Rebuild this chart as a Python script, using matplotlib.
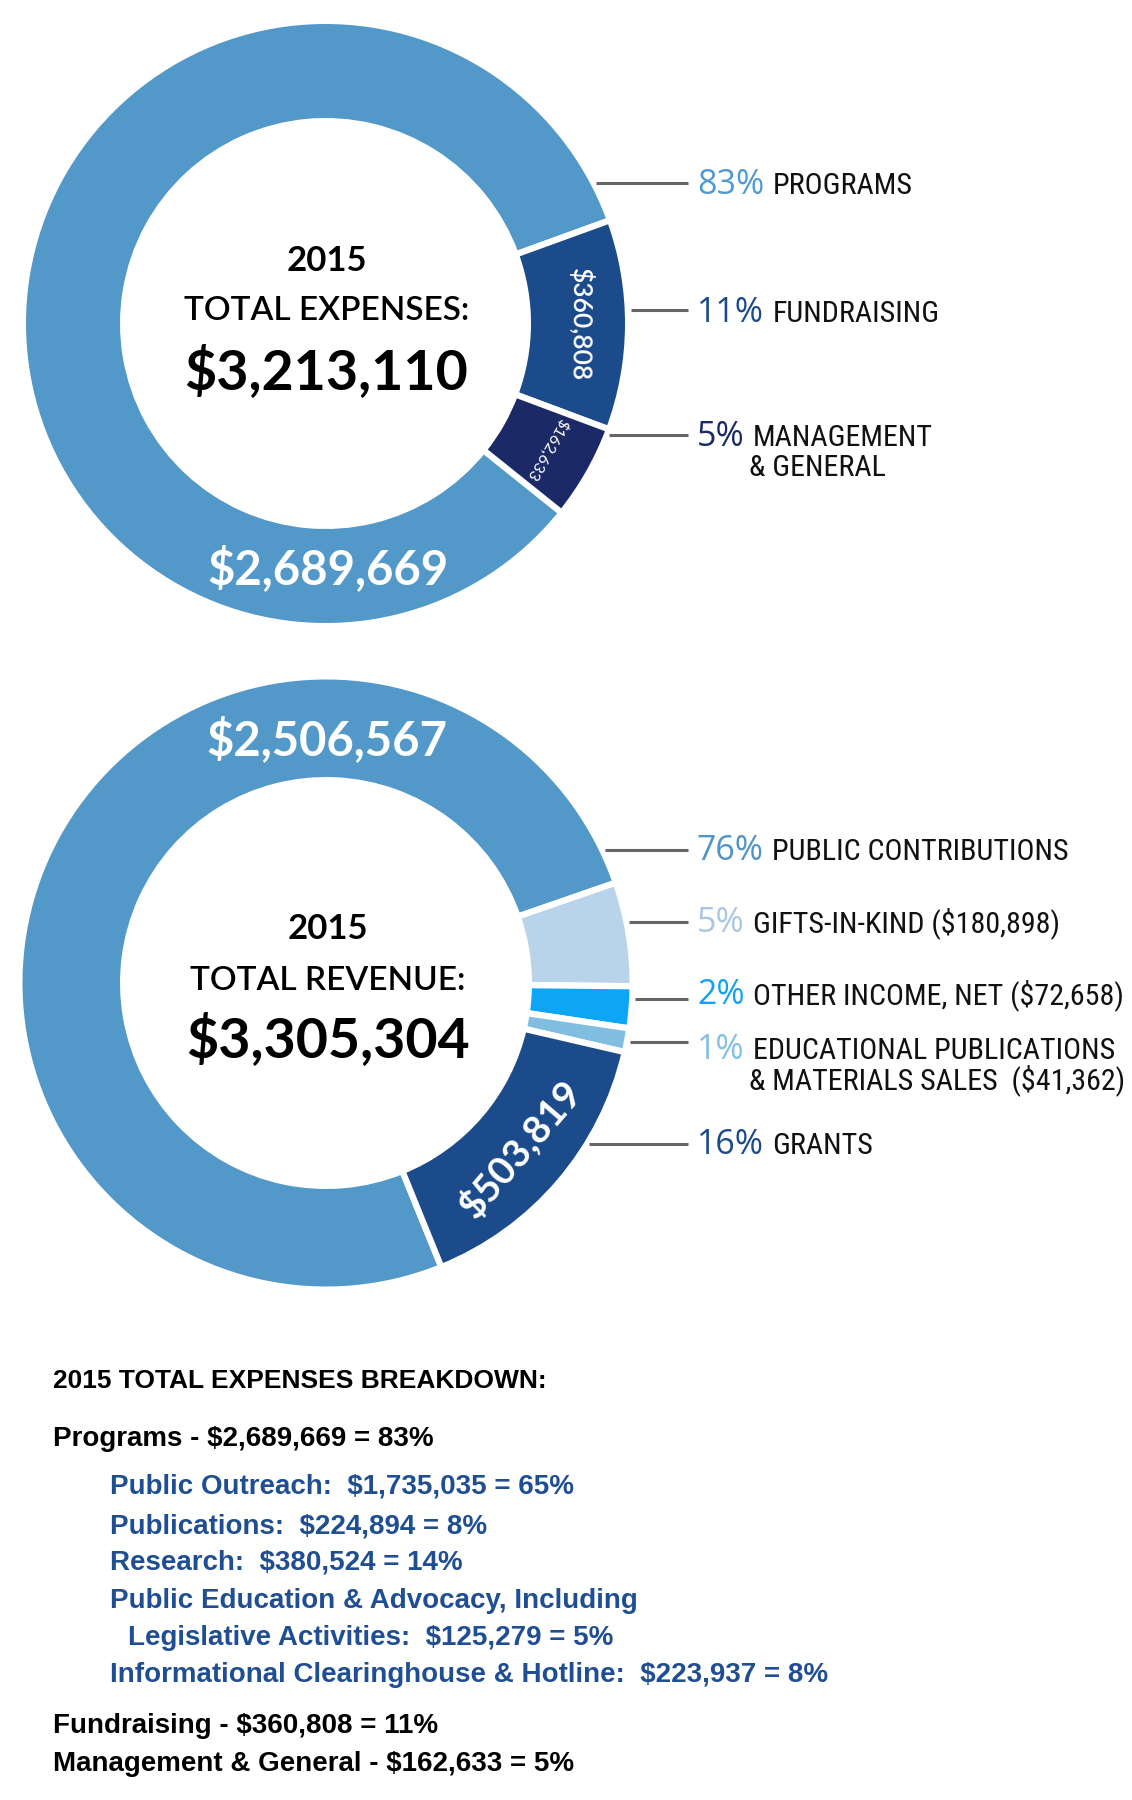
import numpy as np
import matplotlib
matplotlib.use("Agg")
import matplotlib.pyplot as plt
import matplotlib.font_manager as fm

# ---------------- data ----------------
expense_categories = ["Programs", "Fundraising", "Management & General"]
expense_values = [2689669, 360808, 162633]
expense_pcts = [83, 11, 5]
expense_chart_names = ["PROGRAMS", "FUNDRAISING", "MANAGEMENT", ]
expense_chart_names2 = ["", "", "& GENERAL"]
expense_total = 3213110

revenue_chart_names = ["PUBLIC CONTRIBUTIONS", "GIFTS-IN-KIND", "OTHER INCOME, NET",
                       "EDUCATIONAL PUBLICATIONS", "GRANTS"]
revenue_chart_names2 = ["", "", "", "& MATERIALS SALES", ""]
revenue_values = [2506567, 180898, 72658, 41362, 503819]
revenue_pcts = [76, 5, 2, 1, 16]
revenue_show_amount = [False, True, True, True, False]
revenue_total = 3305304

program_items = ["Public Outreach", "Publications", "Research",
                 "Public Education & Advocacy, Including", "Informational Clearinghouse & Hotline"]
program_items_cont = ["", "", "", "Legislative Activities", ""]
program_values = [1735035, 224894, 380524, 125279, 223937]
program_pcts = [65, 8, 14, 5, 8]
year = 2015

# ---------------- fonts ----------------
avail = {f.name for f in fm.fontManager.ttflist}
def first(*cands, default="DejaVu Sans"):
    for c in cands:
        if c in avail:
            return c
    return default

CENTER_FONT = first("Lato", "Open Sans")
PCT_FONT = first("Open Sans", "Noto Sans", "Roboto")
NARROW = first("Liberation Sans Narrow", "Roboto Condensed", "Open Sans Condensed",
               "Noto Sans Condensed", default=None)
if NARROW is None:
    LABEL_FONT, LABEL_SIZE = first("Roboto", "Liberation Sans"), 19.5
else:
    LABEL_FONT, LABEL_SIZE = NARROW, 21.6
BREAK_FONT = first("Liberation Sans", "Arial", "DejaVu Sans")

# ---------------- style ----------------
W, H = 1132, 1800
def Y(y):
    return H - y

C_MED = "#5298C9"
C_DARK = "#1C4B8C"
C_NAVY = "#1B2A66"
C_LIGHT = "#B8D3EA"
C_BRIGHT = "#0DA6F4"
C_SKY = "#7FBDE1"
expense_colors = [C_MED, C_DARK, C_NAVY]
expense_pct_colors = ["#4F9AD3", C_DARK, C_NAVY]
revenue_colors = [C_MED, C_LIGHT, C_BRIGHT, C_SKY, C_DARK]
revenue_pct_colors = ["#4F93C8", "#A9C7E4", "#12A2EE", "#82C0E4", C_DARK]
LEADER = "#666666"
BLUE_TXT = "#1F4E93"

fig = plt.figure(figsize=(W / 100, H / 100), dpi=100)
fig.patch.set_facecolor("white")
ax = fig.add_axes([0, 0, 1, 1])

LW = 4.5  # white separator (points)
half = LW * 100 / 72 / 2


def donut(values, colors, cx, cy, r_out, r_in, startangle):
    wedges, _ = ax.pie(values, colors=colors, radius=r_out + half,
                       center=(cx, Y(cy)), startangle=startangle, counterclock=False,
                       wedgeprops=dict(width=(r_out - r_in) + 2 * half,
                                       edgecolor="white", linewidth=LW))
    return wedges


def leader_labels(cx, cy, r_out, line_ys, bases, pcts, pct_colors, names, names2):
    for ly, b, p, pc, n, n2 in zip(line_ys, bases, pcts, pct_colors, names, names2):
        dy = ly - cy
        xs = cx + np.sqrt(max(r_out ** 2 - dy ** 2, 0)) + 6
        ax.plot([xs, 688], [Y(ly), Y(ly)], color=LEADER, lw=2.2, solid_capstyle="butt")
        t = ax.text(697, Y(b), f"{p}%", fontsize=24.5, family=PCT_FONT, color=pc,
                    weight="medium", ha="left", va="baseline")
        a = ax.annotate(n, xy=(1, Y(b)), xycoords=(t, "data"), xytext=(6, 0),
                        textcoords="offset points", ha="left", va="baseline",
                        fontsize=LABEL_SIZE, family=LABEL_FONT, color="#111111")
        if n2:
            ax.annotate(n2, xy=(0, Y(b + 30)), xycoords=(a, "data"), xytext=(-3, 0),
                        textcoords="offset points", ha="left", va="baseline",
                        fontsize=LABEL_SIZE, family=LABEL_FONT, color="#111111")


def ring_text(w, cx, cy, r, txt, size, weight, ccw):
    th = (w.theta1 + w.theta2) / 2.0
    x = cx + r * np.cos(np.radians(th))
    y = Y(cy) + r * np.sin(np.radians(th))
    rot = th + 90 if ccw else th - 90
    ax.text(x, y, txt, rotation=rot, rotation_mode="anchor", ha="center", va="center",
            fontsize=size, weight=weight, family=CENTER_FONT, color="white")


# ---------------- top donut: expenses ----------------
cx1, cy1, R1, r1 = 325.5, 323.5, 299.5, 205.5
w1 = donut(expense_values, expense_colors, cx1, cy1, R1, r1, 321.3)
ax.text(cx1 + 1, Y(271), f"{year}", fontsize=25, weight="bold", family=CENTER_FONT,
        ha="center", va="baseline", color="black")
ax.text(cx1 + 1, Y(319.5), "TOTAL EXPENSES:", fontsize=24, weight="semibold",
        family=CENTER_FONT, ha="center", va="baseline", color="black")
ax.text(cx1 + 1, Y(389), f"${expense_total:,}", fontsize=40, weight="bold",
        family=CENTER_FONT, ha="center", va="baseline", color="black")
ax.text(cx1 + 2, Y(584), f"${expense_values[0]:,}", fontsize=34, weight="bold",
        family=CENTER_FONT, ha="center", va="baseline", color="white")
ring_text(w1[1], cx1, cy1, (R1 + r1) / 2 + 2, f"${expense_values[1]:,}", 19, "semibold", False)
ring_text(w1[2], cx1, cy1, (R1 + r1) / 2 + 2, f"${expense_values[2]:,}", 11.5, "normal", False)

leader_labels(cx1, cy1, R1, [183, 310, 435], [194.5, 321.5, 446],
              expense_pcts, expense_pct_colors, expense_chart_names, expense_chart_names2)

# ---------------- bottom donut: revenue ----------------
cx2, cy2, R2, r2 = 326, 983, 303.5, 206
w2 = donut(revenue_values, revenue_colors, cx2, cy2, R2, r2, 292.1)
ax.text(cx2 + 2, Y(939), f"{year}", fontsize=25, weight="bold", family=CENTER_FONT,
        ha="center", va="baseline", color="black")
ax.text(cx2 + 2, Y(990), "TOTAL REVENUE:", fontsize=24, weight="semibold",
        family=CENTER_FONT, ha="center", va="baseline", color="black")
ax.text(cx2 + 2, Y(1057), f"${revenue_total:,}", fontsize=40, weight="bold",
        family=CENTER_FONT, ha="center", va="baseline", color="black")
ax.text(cx2 + 1, Y(755), f"${revenue_values[0]:,}", fontsize=34, weight="bold",
        family=CENTER_FONT, ha="center", va="baseline", color="white")
ring_text(w2[4], cx2, cy2, (R2 + r2) / 2, f"${revenue_values[4]:,}", 28, "bold", True)

rev_names = [n + (f" (${v:,})" if s else "") if not n2 else n
             for n, n2, v, s in zip(revenue_chart_names, revenue_chart_names2,
                                    revenue_values, revenue_show_amount)]
rev_names2 = [(n2 + (f"  (${v:,})" if s else "")) if n2 else ""
              for n2, v, s in zip(revenue_chart_names2, revenue_values, revenue_show_amount)]
leader_labels(cx2, cy2, R2, [850, 922, 999, 1042, 1144], [860, 932, 1004, 1059, 1154],
              revenue_pcts, revenue_pct_colors, rev_names, rev_names2)

# ---------------- breakdown text ----------------
BS = 20
ax.text(53, Y(1388), f"{year} TOTAL EXPENSES BREAKDOWN:", fontsize=19, weight="bold",
        family=BREAK_FONT, ha="left", va="baseline", color="black")
ax.text(53, Y(1446), f"{expense_categories[0]} - ${expense_values[0]:,} = {expense_pcts[0]}%",
        fontsize=BS, weight="bold", family=BREAK_FONT, ha="left", va="baseline", color="black")
yb = 1494
steps = [39, 37, 38, 37, 38]
for i, (name, cont, v, p) in enumerate(zip(program_items, program_items_cont,
                                           program_values, program_pcts)):
    if cont:
        ax.text(110, Y(yb), name, fontsize=BS, weight="bold", family=BREAK_FONT,
                ha="left", va="baseline", color=BLUE_TXT)
        yb += 37
        ax.text(127.5, Y(yb), f"{cont}:  ${v:,} = {p}%", fontsize=BS, weight="bold",
                family=BREAK_FONT, ha="left", va="baseline", color=BLUE_TXT)
    else:
        ax.text(110, Y(yb), f"{name}:  ${v:,} = {p}%", fontsize=BS, weight="bold",
                family=BREAK_FONT, ha="left", va="baseline", color=BLUE_TXT)
    yb += steps[i]
ax.text(53, Y(1733), f"{expense_categories[1]} - ${expense_values[1]:,} = {expense_pcts[1]}%",
        fontsize=BS, weight="bold", family=BREAK_FONT, ha="left", va="baseline", color="black")
ax.text(53, Y(1771), f"{expense_categories[2]} - ${expense_values[2]:,} = {expense_pcts[2]}%",
        fontsize=BS, weight="bold", family=BREAK_FONT, ha="left", va="baseline", color="black")

ax.set_xlim(0, W)
ax.set_ylim(0, H)
ax.set_aspect("equal")
ax.axis("off")
fig.savefig("out.png", dpi=100, facecolor="white")
